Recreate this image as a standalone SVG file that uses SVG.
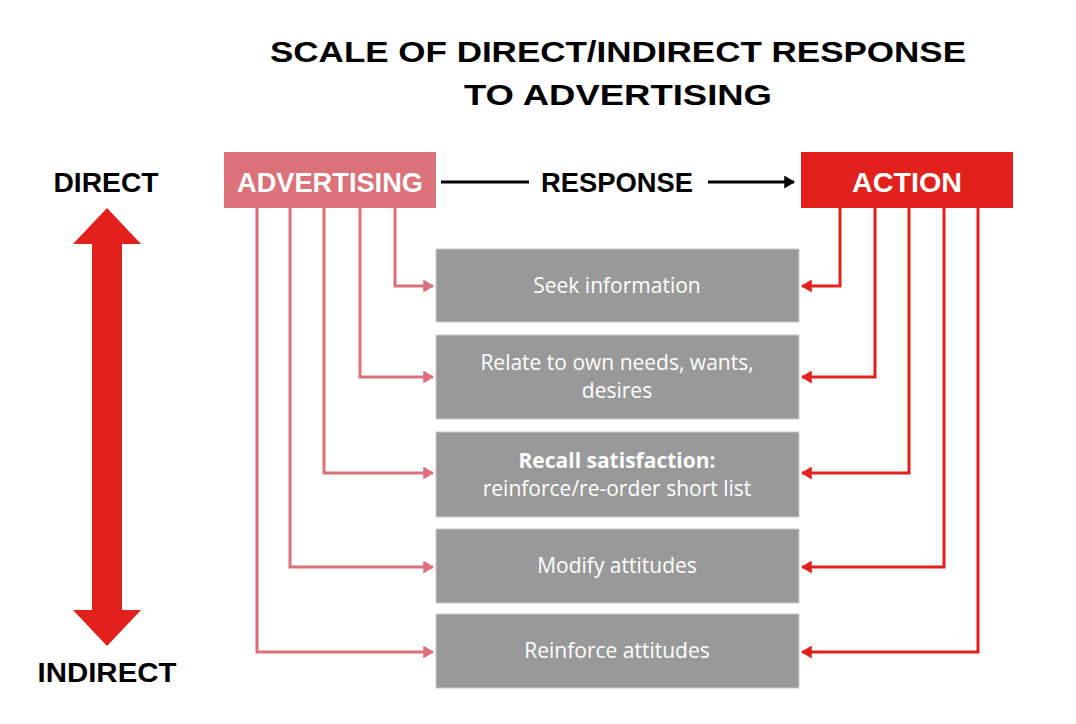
<svg xmlns="http://www.w3.org/2000/svg" width="1076" height="724" viewBox="0 0 1076 724">
<style>
.title{font-family:"Liberation Sans",Arial,sans-serif;font-weight:700;font-size:29px;fill:#000;text-anchor:middle}
.hdr{font-family:"Liberation Sans",Arial,sans-serif;font-weight:700;font-size:27px;fill:#fff;text-anchor:middle}
.side{font-family:"Liberation Sans",Arial,sans-serif;font-weight:700;font-size:27px;fill:#000;text-anchor:middle}
.box{fill:#999999;stroke:#c9c9c9;stroke-width:1}
.bt{font-family:"Open Sans","Liberation Sans",sans-serif;font-size:21px;fill:#fff;text-anchor:middle}
.pk{fill:none;stroke:#DB7079;stroke-width:3}
.rd{fill:none;stroke:#E2211C;stroke-width:3}
.bk{fill:none;stroke:#000;stroke-width:3}
</style>
<defs>
<marker id="mp" viewBox="0 0 10 12" refX="9" refY="6" markerUnits="userSpaceOnUse" markerWidth="11" markerHeight="13" orient="auto"><path d="M0,0 L10,6 L0,12 Z" fill="#DB7079"/></marker>
<marker id="mr" viewBox="0 0 10 12" refX="9" refY="6" markerUnits="userSpaceOnUse" markerWidth="11" markerHeight="13" orient="auto"><path d="M0,0 L10,6 L0,12 Z" fill="#E2211C"/></marker>
<marker id="mb" viewBox="0 0 10 12" refX="9" refY="6" markerUnits="userSpaceOnUse" markerWidth="11" markerHeight="13" orient="auto"><path d="M0,0 L10,6 L0,12 Z" fill="#000"/></marker>
</defs>
<rect width="1076" height="724" fill="#fff"/>
<g id="title">
<text class="title" x="618" y="62" textLength="696" lengthAdjust="spacingAndGlyphs">SCALE OF DIRECT/INDIRECT RESPONSE</text>
<text class="title" x="618" y="105" textLength="308" lengthAdjust="spacingAndGlyphs">TO ADVERTISING</text>
</g>
<g id="scale">
<text class="side" x="106" y="192" textLength="105" lengthAdjust="spacingAndGlyphs">DIRECT</text>
<text class="side" x="107" y="682" textLength="139" lengthAdjust="spacingAndGlyphs">INDIRECT</text>
<path d="M107,208 L141,244 L122,244 L122,610 L141,610 L107,646 L73,610 L92,610 L92,244 L73,244 Z" fill="#E2211C"/>
</g>
<g id="advertising">
<rect x="224" y="152" width="212" height="56" fill="#DB727A"/>
<text class="hdr" x="330" y="192" textLength="186" lengthAdjust="spacingAndGlyphs">ADVERTISING</text>
</g>
<g id="response">
<text class="side" x="617" y="192" textLength="152" lengthAdjust="spacingAndGlyphs">RESPONSE</text>
</g>
<g id="action">
<rect x="801" y="152" width="212" height="56" fill="#E2211C"/>
<text class="hdr" x="907" y="192" textLength="110" lengthAdjust="spacingAndGlyphs">ACTION</text>
</g>
<g id="seek">
<rect class="box" x="436" y="249" width="363" height="73"/>
<text class="bt" x="617" y="293">Seek information</text>
</g>
<g id="relate">
<rect class="box" x="436" y="335" width="363" height="84"/>
<text class="bt" x="617" y="370">Relate to own needs, wants,</text>
<text class="bt" x="617" y="398">desires</text>
</g>
<g id="recall">
<rect class="box" x="436" y="432" width="363" height="85"/>
<text class="bt" x="617" y="468" font-weight="700" font-size="20">Recall satisfaction:</text>
<text class="bt" x="617" y="496">reinforce/re-order short list</text>
</g>
<g id="modify">
<rect class="box" x="436" y="529" width="363" height="74"/>
<text class="bt" x="617" y="573">Modify attitudes</text>
</g>
<g id="reinforce">
<rect class="box" x="436" y="614" width="363" height="74"/>
<text class="bt" x="617" y="658">Reinforce attitudes</text>
</g>
<g id="connectors">
<line class="bk" x1="441" y1="182" x2="529" y2="182"/>
<line class="bk" x1="708" y1="182" x2="794" y2="182" marker-end="url(#mb)"/>
<path class="pk" d="M395,208 V286 H433" marker-end="url(#mp)"/>
<path class="pk" d="M360,208 V377 H433" marker-end="url(#mp)"/>
<path class="pk" d="M324,208 V473 H433" marker-end="url(#mp)"/>
<path class="pk" d="M290,208 V567 H433" marker-end="url(#mp)"/>
<path class="pk" d="M257,208 V652 H433" marker-end="url(#mp)"/>
<path class="rd" d="M840,208 V286 H802" marker-end="url(#mr)"/>
<path class="rd" d="M875,208 V377 H802" marker-end="url(#mr)"/>
<path class="rd" d="M909,208 V473 H802" marker-end="url(#mr)"/>
<path class="rd" d="M944,208 V567 H802" marker-end="url(#mr)"/>
<path class="rd" d="M978,208 V652 H802" marker-end="url(#mr)"/>
</g>
</svg>
